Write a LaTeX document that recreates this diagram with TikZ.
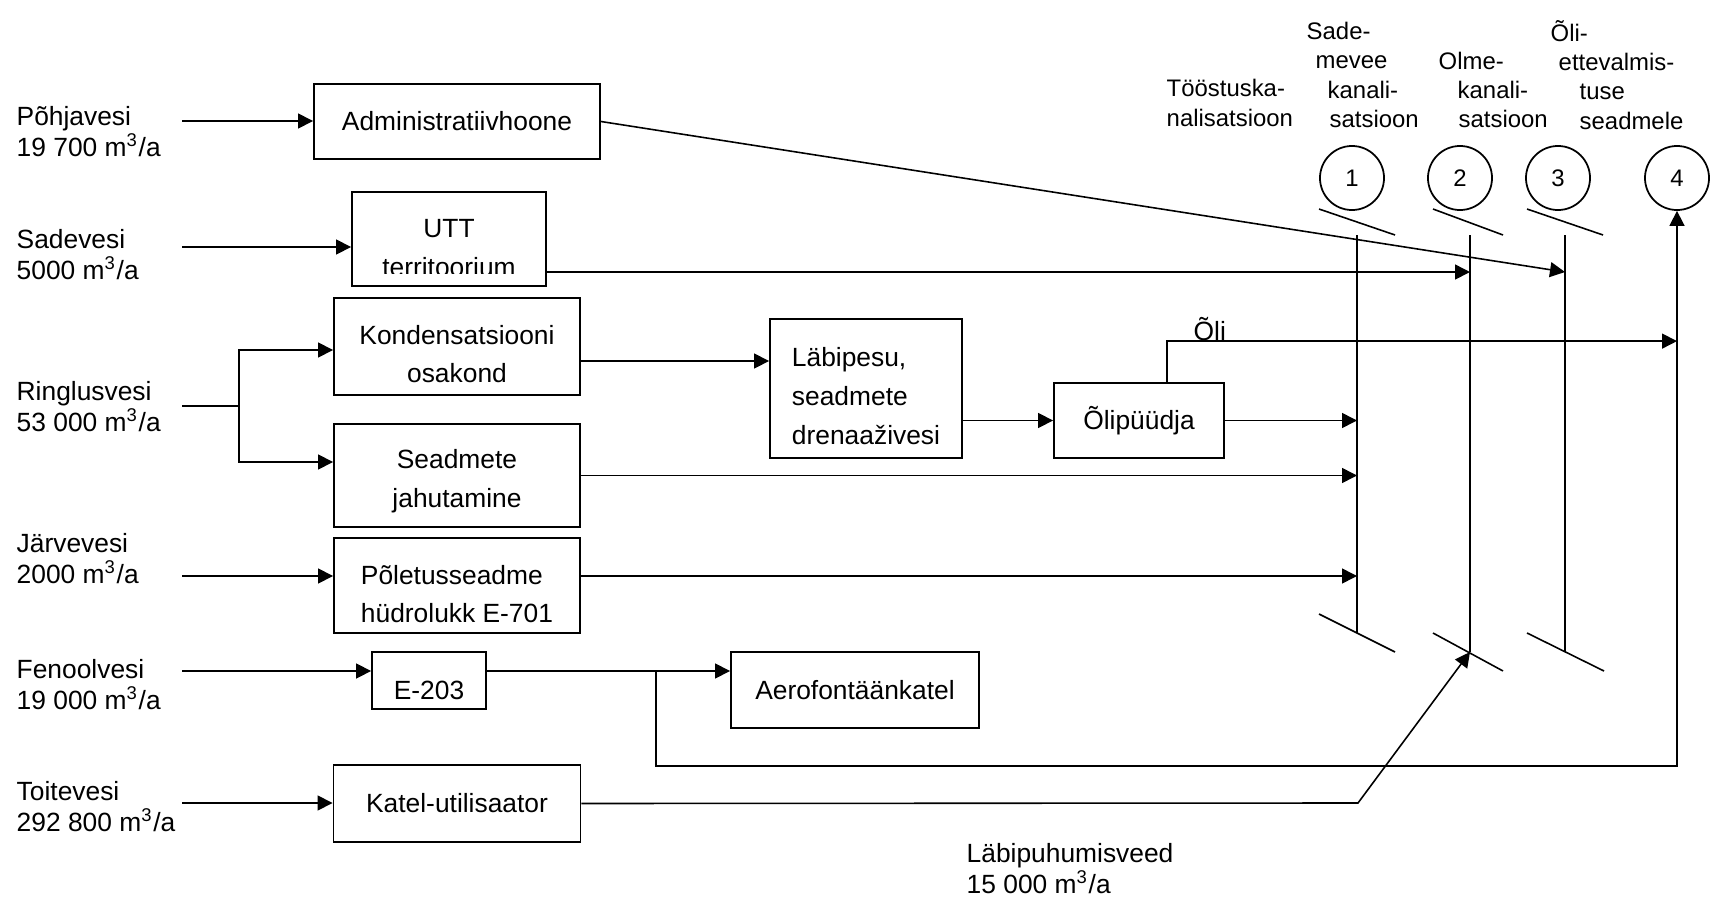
\documentclass[tikz,border=0pt]{standalone}
\usepackage{fontspec}
\setmainfont{Liberation Sans}
\usetikzlibrary{arrows.meta}

\begin{document}
\begin{tikzpicture}[
  x=0.01cm, y=-0.01cm,
  pbox/.style={rectangle, draw, line width=0.5pt, align=center, inner sep=2pt,
    font=\fontsize{7.5}{11}\selectfont},
  ptxt/.style={align=center, inner sep=0pt, font=\fontsize{7.5}{11}\selectfont},
  lbl/.style={anchor=west, align=left, inner sep=0pt, font=\fontsize{7.5}{8.8}\selectfont},
  hdr/.style={anchor=west, align=left, inner sep=0pt, font=\fontsize{6.8}{8.3}\selectfont},
  outlet/.style={circle, draw, line width=0.5pt, minimum size=0.64cm, inner sep=0pt,
    font=\fontsize{6.8}{8}\selectfont},
  arr/.style={-{Triangle[length=1.5mm, width=1.5mm]}, line width=0.45pt},
  pipe/.style={line width=0.45pt}
]
\useasboundingbox (0,0) rectangle (1711,897);

% water sources
\node[lbl] (pohja) at (16,132) {Põhjavesi\\19 700 m\textsuperscript{3}/a};
\node[lbl] (sade) at (16,255) {Sadevesi\\5000 m\textsuperscript{3}/a};
\node[lbl] (ringl) at (16,407) {Ringlusvesi\\53 000 m\textsuperscript{3}/a};
\node[lbl] (jarve) at (16,559) {Järvevesi\\2000 m\textsuperscript{3}/a};
\node[lbl] (fenool) at (16,685) {Fenoolvesi\\19 000 m\textsuperscript{3}/a};
\node[lbl] (toite) at (16,807) {Toitevesi\\292 800 m\textsuperscript{3}/a};
\node[lbl] (labip) at (966,869) {Läbipuhumisveed\\15 000 m\textsuperscript{3}/a};

\coordinate (in1) at (182,121);
\coordinate (in2) at (182,247);
\coordinate (in3) at (182,406);
\coordinate (in4) at (182,576);
\coordinate (in5) at (182,671);
\coordinate (in6) at (182,803);

% process units
\node[pbox, minimum width=2.86cm, minimum height=0.75cm] (adm) at (457,121.5) {Administratiivhoone};
\node[pbox, minimum width=1.94cm, minimum height=0.94cm] (utt) at (449,239) {};
\begin{scope}
  \clip (352,192) rectangle (546,273);
  \node[ptxt] (utttxt) at (449,248) {UTT\\territoorium};
\end{scope}
\node[pbox, minimum width=2.46cm, minimum height=0.97cm] (kond) at (457,346.5) {};
\node[ptxt] (kondtxt) at (457,354) {Kondensatsiooni\\osakond};
\node[pbox, minimum width=2.46cm, minimum height=1.03cm] (jahut) at (457,475.5) {};
\node[ptxt] (jahuttxt) at (457,481) {Seadmete\\jahutamine};
\node[pbox, minimum width=2.46cm, minimum height=0.95cm] (polet) at (457,585.5) {};
\node[ptxt, align=left] (polettxt) at (457,594) {Põletusseadme\\hüdrolukk E-701};
\node[pbox, minimum width=1.92cm, minimum height=1.39cm] (labi) at (866,388.5) {};
\node[ptxt, align=left] (labitxt) at (866,396) {Läbipesu,\\seadmete\\drenaaživesi};
\node[pbox, minimum width=1.70cm, minimum height=0.75cm] (olip) at (1139,420.5) {Õlipüüdja};
\node[pbox, minimum width=1.14cm, minimum height=0.57cm] (e203) at (429,680.5) {};
\node[ptxt] (e203txt) at (429,690) {E-203};
\node[pbox, minimum width=2.48cm, minimum height=0.76cm] (aero) at (855,690) {Aerofontäänkatel};
\node[pbox, minimum width=2.47cm, minimum height=0.77cm] (katel) at (457,803.5) {Katel-utilisaator};

% outlets
\node[hdr] (htoo) at (1166,103) {Tööstuska-\\nalisatsioon};
\node[hdr] (hsade) at (1306,75) {Sade-\\\hspace*{0.09cm}mevee\\\hspace*{0.21cm}kanali-\\\hspace*{0.23cm}satsioon};
\node[hdr] (holme) at (1438,90) {Olme-\\\hspace*{0.19cm}kanali-\\\hspace*{0.2cm}satsioon};
\node[hdr] (holi) at (1550,75) {Õli-\\\hspace*{0.08cm}ettevalmis-\\\hspace*{0.29cm}tuse\\\hspace*{0.29cm}seadmele};

\node[outlet] (c1) at (1352,178) {1};
\node[outlet] (c2) at (1460,178) {2};
\node[outlet] (c3) at (1558,178) {3};
\node[outlet] (c4) at (1677,178) {4};

% collectors
\coordinate (k1t) at (1357,235);
\coordinate (k1b) at (1357,633);
\coordinate (k2t) at (1470,235);
\coordinate (k2b) at (1470,652);
\coordinate (k3t) at (1565,235);
\coordinate (k3b) at (1565,651);
\coordinate (k4b) at (1677,766);
\draw[pipe] (k1t) -- (k1b);
\draw[pipe] (k2t) -- (k2b);
\draw[pipe] (k3t) -- (k3b);
\draw[pipe] (1319,209) -- (1395,235);
\draw[pipe] (1433,209) -- (1503,235);
\draw[pipe] (1527,209) -- (1603,235);
\draw[pipe] (1319,614) -- (1395,652);
\draw[pipe] (1433,633) -- (1503,671);
\draw[pipe] (1527,633) -- (1604,671);

% inflows
\coordinate (split) at (239,406);
\draw[arr] (in1) -- (in1 -| adm.west);
\draw[arr] (in2) -- (in2 -| utt.west);
\draw[pipe] (in3) -- (split);
\draw[arr] (split) |- ([yshift=-0.035cm]kond.west);
\draw[arr] (split) |- ([yshift=0.135cm]jahut.west);
\draw[arr] (in4) -- (in4 -| polet.west);
\draw[arr] (in5) -- (in5 -| e203.west);
\draw[arr] (in6) -- (in6 -| katel.west);

% internal flows
\draw[arr] ([yshift=-0.145cm]kond.east) -- ([yshift=-0.145cm]kond.east -| labi.west);
\draw[arr] (olip.west -| labi.east) -- (olip.west);
\draw[arr] (olip.east) -- (olip.east -| k1t);
\draw[arr] (jahut.east) -- (jahut.east -| k1t);
\draw[arr] (in4 -| polet.east) -- (in4 -| k1t);
\draw[arr] ([yshift=-0.33cm]utt.east) -- ([yshift=-0.33cm]utt.east -| k2t);
\draw[arr] (adm.east) -- ([yshift=-0.33cm]utt.east -| k3t);

% oil
\draw[arr] ([xshift=0.28cm]olip.north) -- ++(0,-41) coordinate (olibend) -- (olibend -| k4b);
\node[lbl, anchor=base west] (olitxt) at (1193,340) {Õli};

% phenol water and blowdown
\coordinate (tee) at (656,671);
\coordinate (kbend) at (1358,803);
\draw[pipe] (in5 -| e203.east) -- (tee);
\draw[arr] (tee) -- (tee -| aero.west);
\draw[arr] (tee) |- (k4b) -- (c4.south);
\draw[arr] (katel.east) -- (kbend) -- (k2b);

\end{tikzpicture}
\end{document}
